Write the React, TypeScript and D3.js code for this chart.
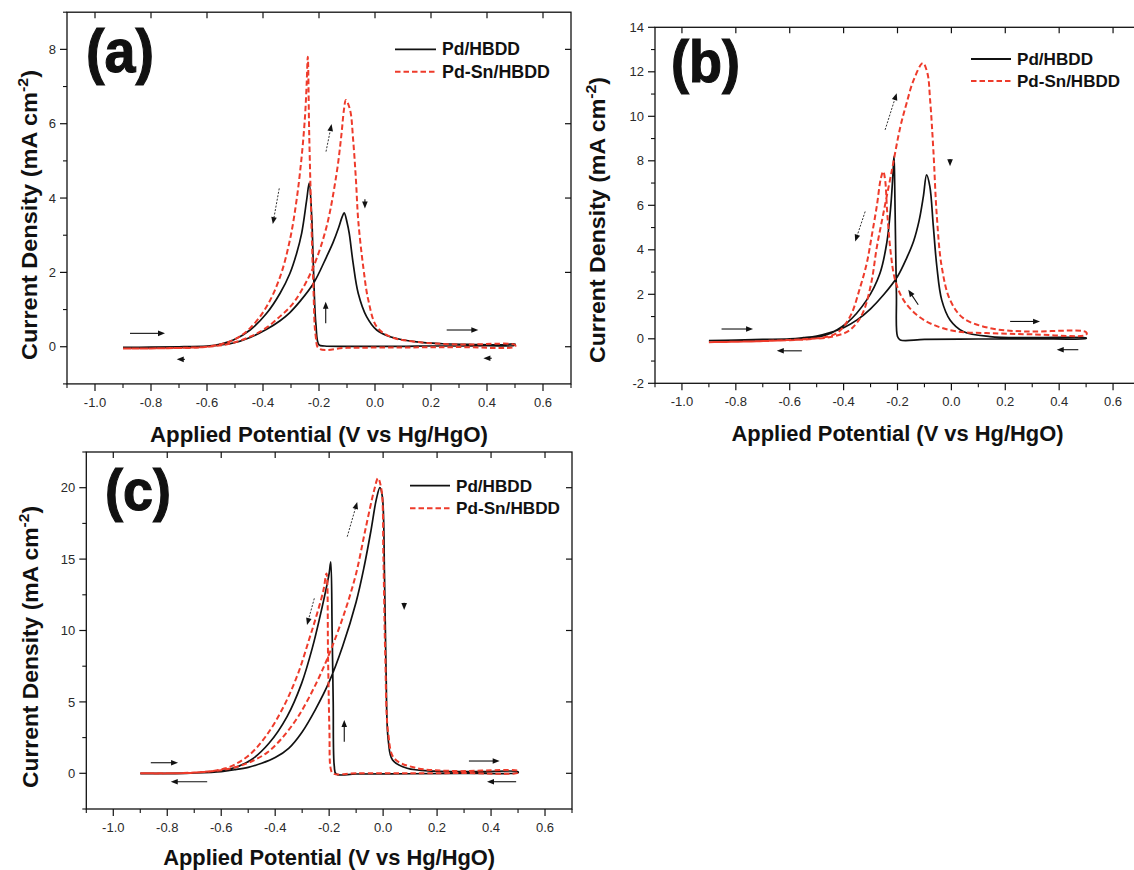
import React from 'react';
import * as d3 from 'd3';

type Pt = [number, number];

// ---------- tick labels / categories ----------
const xTickValues = [-1.0, -0.8, -0.6, -0.4, -0.2, 0.0, 0.2, 0.4, 0.6];
const yTicksA = [0, 2, 4, 6, 8];
const yTicksB = [-2, 0, 2, 4, 6, 8, 10, 12, 14];
const yTicksC = [0, 5, 10, 15, 20];
const seriesNames = ['Pd/HBDD', 'Pd-Sn/HBDD'];
const panelLabels = ['(a)', '(b)', '(c)'];
const xTitle = 'Applied Potential (V vs Hg/HgO)';

// ---------- panel (a) ----------
const aPdForward: Pt[] = [
  [-0.9, -0.02], [-0.8, -0.01], [-0.7, 0.0], [-0.6, 0.02], [-0.55, 0.05], [-0.506, 0.1],
  [-0.446, 0.25], [-0.387, 0.47], [-0.339, 0.7], [-0.304, 0.92], [-0.268, 1.22], [-0.22, 1.7],
  [-0.173, 2.42], [-0.15, 2.8], [-0.13, 3.2], [-0.117, 3.5], [-0.11, 3.6], [-0.1, 3.35],
  [-0.092, 3.05], [-0.078, 2.24], [-0.06, 1.44], [-0.03, 0.81], [0.006, 0.45], [0.054, 0.27],
  [0.149, 0.13], [0.25, 0.08], [0.35, 0.06], [0.45, 0.05], [0.5, 0.07],
];
const aPdReverse: Pt[] = [
  [0.5, 0.04], [0.4, 0.03], [0.3, 0.02], [0.2, 0.02], [0.1, 0.01], [0.0, 0.01], [-0.1, 0.01],
  [-0.18, 0.02], [-0.2, 0.05], [-0.211, 0.6], [-0.22, 2.15], [-0.226, 3.5], [-0.235, 4.4],
  [-0.244, 3.95], [-0.262, 3.05], [-0.28, 2.51], [-0.304, 1.97], [-0.339, 1.44], [-0.387, 0.9],
  [-0.446, 0.45], [-0.506, 0.18], [-0.56, 0.06], [-0.62, 0.0], [-0.7, -0.02], [-0.8, -0.03], [-0.9, -0.03],
];
const aPdSnForward: Pt[] = [
  [-0.9, -0.05], [-0.75, -0.04], [-0.6, 0.0], [-0.52, 0.08], [-0.446, 0.27], [-0.39, 0.5],
  [-0.34, 0.81], [-0.3, 1.1], [-0.268, 1.44], [-0.22, 2.15], [-0.173, 3.23], [-0.137, 4.67],
  [-0.12, 5.7], [-0.111, 6.37], [-0.104, 6.64], [-0.089, 6.37], [-0.078, 5.56], [-0.068, 4.48],
  [-0.06, 3.41], [-0.042, 2.15], [-0.024, 1.26], [0.006, 0.54], [0.054, 0.27], [0.149, 0.13],
  [0.3, 0.06], [0.5, 0.05],
];
const aPdSnReverse: Pt[] = [
  [0.5, 0.0], [0.3, -0.01], [0.1, -0.02], [-0.1, -0.03], [-0.2, -0.05], [-0.212, 0.3],
  [-0.22, 1.6], [-0.226, 3.05], [-0.235, 5.74], [-0.24, 7.8], [-0.244, 7.09], [-0.25, 6.19],
  [-0.262, 5.11], [-0.28, 3.95], [-0.304, 2.87], [-0.339, 1.88], [-0.387, 1.08], [-0.446, 0.5],
  [-0.506, 0.18], [-0.6, 0.0], [-0.75, -0.04], [-0.9, -0.05],
];

// ---------- panel (b) ----------
const bPdForward: Pt[] = [
  [-0.9, -0.08], [-0.8, -0.06], [-0.7, -0.03], [-0.6, 0.0], [-0.55, 0.05], [-0.5, 0.12],
  [-0.45, 0.28], [-0.4, 0.5], [-0.35, 0.85], [-0.3, 1.35], [-0.25, 2.0], [-0.2, 2.8],
  [-0.166, 3.63], [-0.14, 4.4], [-0.12, 5.3], [-0.104, 6.4], [-0.092, 7.37], [-0.08, 6.85],
  [-0.067, 5.05], [-0.054, 3.25], [-0.036, 1.75], [-0.005, 0.85], [0.044, 0.33], [0.143, 0.1],
  [0.3, 0.05], [0.5, 0.04],
];
const bPdReverse: Pt[] = [
  [0.5, 0.02], [0.3, 0.0], [0.1, -0.01], [-0.1, -0.03], [-0.19, -0.05], [-0.2, 0.1],
  [-0.204, 2.0], [-0.208, 5.0], [-0.211, 7.4], [-0.213, 8.2], [-0.216, 7.6], [-0.225, 5.95],
  [-0.24, 4.3], [-0.265, 2.95], [-0.314, 1.75], [-0.389, 0.7], [-0.463, 0.18], [-0.55, 0.0],
  [-0.7, -0.05], [-0.9, -0.08],
];
const bPdSnForward: Pt[] = [
  [-0.9, -0.15], [-0.75, -0.12], [-0.6, -0.05], [-0.52, 0.0], [-0.463, 0.05], [-0.389, 0.3],
  [-0.352, 0.7], [-0.324, 1.3], [-0.296, 2.6], [-0.277, 4.1], [-0.253, 5.6], [-0.222, 7.5],
  [-0.19, 9.5], [-0.166, 10.6], [-0.141, 11.6], [-0.106, 12.39], [-0.089, 11.94], [-0.079, 10.74],
  [-0.067, 8.5], [-0.054, 5.5], [-0.036, 3.25], [-0.005, 1.75], [0.044, 0.93], [0.143, 0.48],
  [0.267, 0.33], [0.5, 0.3],
];
const bPdSnReverse: Pt[] = [
  [0.5, 0.18], [0.3, 0.2], [0.15, 0.25], [0.02, 0.33], [-0.067, 0.63], [-0.129, 1.08],
  [-0.178, 1.75], [-0.209, 2.65], [-0.225, 3.85], [-0.238, 5.65], [-0.246, 7.15], [-0.253, 7.52],
  [-0.262, 7.2], [-0.277, 5.95], [-0.296, 4.6], [-0.314, 3.4], [-0.339, 2.3], [-0.376, 1.0],
  [-0.426, 0.25], [-0.513, 0.0], [-0.6, -0.06], [-0.75, -0.12], [-0.9, -0.15],
];

// ---------- panel (c) ----------
const cPdForward: Pt[] = [
  [-0.9, 0.0], [-0.8, 0.0], [-0.7, 0.03], [-0.6, 0.12], [-0.55, 0.25], [-0.5, 0.42],
  [-0.45, 0.7], [-0.4, 1.1], [-0.35, 1.75], [-0.3, 2.9], [-0.25, 4.5], [-0.2, 6.4],
  [-0.15, 8.9], [-0.1, 12.0], [-0.07, 14.5], [-0.045, 17.0], [-0.025, 19.2], [-0.012, 20.0],
  [-0.003, 19.4], [0.005, 14.0], [0.011, 7.0], [0.019, 2.33], [0.035, 0.93], [0.089, 0.35],
  [0.19, 0.15], [0.35, 0.12], [0.5, 0.11],
];
const cPdReverse: Pt[] = [
  [0.5, 0.05], [0.3, 0.0], [0.1, -0.03], [-0.1, -0.05], [-0.174, -0.05], [-0.181, 0.5],
  [-0.185, 5.0], [-0.189, 10.0], [-0.194, 14.8], [-0.2, 14.0], [-0.207, 13.3], [-0.234, 10.97],
  [-0.261, 8.87], [-0.302, 6.3], [-0.356, 3.97], [-0.423, 2.1], [-0.49, 0.93], [-0.571, 0.28],
  [-0.7, 0.03], [-0.9, -0.03],
];
const cPdSnForward: Pt[] = [
  [-0.9, 0.0], [-0.8, 0.0], [-0.7, 0.05], [-0.6, 0.22], [-0.53, 0.52], [-0.477, 0.93],
  [-0.43, 1.45], [-0.38, 2.35], [-0.315, 3.97], [-0.248, 6.3], [-0.194, 8.63], [-0.14, 11.43],
  [-0.1, 14.0], [-0.066, 17.04], [-0.033, 19.84], [-0.019, 20.66], [-0.006, 19.84], [0.001, 15.17],
  [0.008, 8.17], [0.019, 2.8], [0.041, 1.05], [0.116, 0.4], [0.26, 0.16], [0.5, 0.16],
];
const cPdSnReverse: Pt[] = [
  [0.5, 0.05], [0.3, 0.02], [0.1, 0.0], [-0.1, 0.0], [-0.185, -0.02], [-0.194, 0.3],
  [-0.199, 3.0], [-0.204, 8.0], [-0.21, 14.0], [-0.221, 12.84], [-0.248, 10.97], [-0.275, 9.33],
  [-0.315, 7.0], [-0.369, 4.66], [-0.436, 2.56], [-0.504, 1.16], [-0.584, 0.35], [-0.7, 0.05],
  [-0.9, 0.0],
];

// ---------- scan-direction arrows: [x1, y1, x2, y2, dotted(1) / solid(0)] ----------
const arrowsA: number[][] = [
  [-0.875, 0.36, -0.75, 0.36, 0],
  [-0.679, -0.34, -0.708, -0.34, 0],
  [-0.342, 4.26, -0.365, 3.3, 1],
  [-0.175, 5.25, -0.155, 5.99, 1],
  [-0.036, 3.97, -0.036, 3.72, 0],
  [-0.176, 0.63, -0.176, 1.21, 0],
  [0.256, 0.45, 0.369, 0.45, 0],
  [0.417, -0.31, 0.387, -0.31, 0],
];
const arrowsB: number[][] = [
  [-0.853, 0.44, -0.736, 0.44, 0],
  [-0.555, -0.54, -0.648, -0.54, 0],
  [-0.246, 9.39, -0.203, 11.04, 1],
  [-0.32, 5.72, -0.357, 4.37, 1],
  [-0.005, 8.08, -0.005, 7.75, 0],
  [-0.123, 1.53, -0.16, 2.2, 0],
  [0.218, 0.78, 0.329, 0.78, 0],
  [0.471, -0.49, 0.391, -0.49, 0],
];
const arrowsC: number[][] = [
  [-0.861, 0.74, -0.76, 0.74, 0],
  [-0.652, -0.59, -0.787, -0.59, 0],
  [-0.255, 12.25, -0.282, 10.39, 1],
  [-0.133, 16.57, -0.096, 19.0, 1],
  [0.078, 11.95, 0.078, 11.44, 0],
  [-0.144, 2.21, -0.144, 3.73, 0],
  [0.318, 0.86, 0.432, 0.86, 0],
  [0.493, -0.59, 0.385, -0.59, 0],
];

// ---------- layout ----------
const FONT = "'Liberation Sans', Arial, Helvetica, sans-serif";
const RED = '#ee3b2b';

interface PanelCfg {
  label: string;
  xRange: [number, number];
  yDomain: [number, number];
  yRange: [number, number];
  yTicks: number[];
  yMinorStep: number;
  pd: Pt[];
  pdsn: Pt[];
  arrows: number[][];
  labelX: number; labelY: number; labelSize: number; labelLen: number;
  legX: number; legY1: number; legY2: number; legLineLen: number; legSize: number; legLen1: number; legLen2: number;
  xTitleY: number; xTitleLen: number;
  yTitleX: number; yTitleY: number; yTitleLen: number;
}

const panels: PanelCfg[] = [
  {
    label: panelLabels[0], xRange: [67, 571], yDomain: [-1, 9], yRange: [383.9, 12.2],
    yTicks: yTicksA, yMinorStep: 2,
    pd: [...aPdForward, ...aPdReverse], pdsn: [...aPdSnForward, ...aPdSnReverse], arrows: arrowsA,
    labelX: 86, labelY: 72, labelSize: 62, labelLen: 68,
    legX: 395, legY1: 49.3, legY2: 71.7, legLineLen: 41, legSize: 18, legLen1: 78, legLen2: 108,
    xTitleY: 442, xTitleLen: 338, yTitleX: 37, yTitleY: 215, yTitleLen: 290,
  },
  {
    label: panelLabels[1], xRange: [655, 1140], yDomain: [-2, 14], yRange: [383.3, 27.3],
    yTicks: yTicksB, yMinorStep: 2,
    pd: [...bPdForward, ...bPdReverse], pdsn: [...bPdSnForward, ...bPdSnReverse], arrows: arrowsB,
    labelX: 671, labelY: 82, labelSize: 60, labelLen: 69,
    legX: 971, legY1: 59, legY2: 81, legLineLen: 40, legSize: 17, legLen1: 76, legLen2: 103,
    xTitleY: 441, xTitleLen: 332, yTitleX: 605, yTitleY: 220, yTitleLen: 286,
  },
  {
    label: panelLabels[2], xRange: [86.3, 572], yDomain: [-2.5, 22.5], yRange: [809, 452],
    yTicks: yTicksC, yMinorStep: 5,
    pd: [...cPdForward, ...cPdReverse], pdsn: [...cPdSnForward, ...cPdSnReverse], arrows: arrowsC,
    labelX: 105, labelY: 510, labelSize: 58, labelLen: 66,
    legX: 410, legY1: 485.7, legY2: 508.3, legLineLen: 40, legSize: 17, legLen1: 76, legLen2: 104,
    xTitleY: 865, xTitleLen: 332, yTitleX: 38, yTitleY: 647, yTitleLen: 282,
  },
];

function Arrow({ x1, y1, x2, y2, dotted }: { x1: number; y1: number; x2: number; y2: number; dotted: boolean }) {
  const dx = x2 - x1, dy = y2 - y1;
  const L = Math.hypot(dx, dy) || 1;
  const ux = dx / L, uy = dy / L;
  const hl = 7, hw = 2.8;
  const bx = x2 - ux * hl, by = y2 - uy * hl;
  const pts = `${x2},${y2} ${bx - uy * hw},${by + ux * hw} ${bx + uy * hw},${by - ux * hw}`;
  const shaftEndX = x2 - ux * hl * 0.7, shaftEndY = y2 - uy * hl * 0.7;
  return (
    <g>
      {L > hl ? (
        <line x1={x1} y1={y1} x2={shaftEndX} y2={shaftEndY} stroke={dotted ? '#333' : '#111'}
          strokeWidth={dotted ? 1 : 1.1} strokeDasharray={dotted ? '2 1.5' : undefined} />
      ) : null}
      <polygon points={pts} fill="#111" />
    </g>
  );
}

function Panel({ cfg }: { cfg: PanelCfg }) {
  const xs = d3.scaleLinear().domain([-1.1, 0.7]).range(cfg.xRange);
  const ys = d3.scaleLinear().domain(cfg.yDomain).range(cfg.yRange);
  const line = d3.line<Pt>().x((d) => xs(d[0])).y((d) => ys(d[1])).curve(d3.curveCatmullRom.alpha(0.5));
  const [x0, x1] = cfg.xRange;
  const yb = cfg.yRange[0], yt = cfg.yRange[1];
  const xMinor = d3.range(-1.1, 0.71, 0.2).map((v) => Math.round(v * 10) / 10);
  const yMinor = d3.range(cfg.yTicks[0] - cfg.yMinorStep / 2, cfg.yDomain[1] + 0.01, cfg.yMinorStep)
    .filter((v) => v >= cfg.yDomain[0] - 0.01);
  const xc = (x0 + x1) / 2;
  return (
    <g>
      <path d={line(cfg.pd) || ''} fill="none" stroke="#111" strokeWidth={1.7} strokeLinejoin="round" />
      <path d={line(cfg.pdsn) || ''} fill="none" stroke={RED} strokeWidth={2} strokeDasharray="5.5 3" />
      {cfg.arrows.map((a, i) => (
        <Arrow key={i} x1={xs(a[0])} y1={ys(a[1])} x2={xs(a[2])} y2={ys(a[3])} dotted={a[4] === 1} />
      ))}
      <rect x={x0} y={yt} width={x1 - x0} height={yb - yt} fill="none" stroke="#111" strokeWidth={1.3} />
      {xTickValues.map((v) => (
        <g key={'xb' + v}>
          <line x1={xs(v)} x2={xs(v)} y1={yb} y2={yb + 7} stroke="#111" strokeWidth={1.2} />
          <line x1={xs(v)} x2={xs(v)} y1={yt} y2={yt + 6} stroke="#111" strokeWidth={1.2} />
          <text x={xs(v)} y={yb + 23} textAnchor="middle" fontFamily={FONT} fontSize={13} fill="#2a2a2a">
            {v.toFixed(1)}
          </text>
        </g>
      ))}
      {xMinor.map((v) => (
        <line key={'xm' + v} x1={xs(v)} x2={xs(v)} y1={yb} y2={yb + 4} stroke="#111" strokeWidth={1.1} />
      ))}
      {cfg.yTicks.map((v) => (
        <g key={'yl' + v}>
          <line x1={x0 - 7} x2={x0} y1={ys(v)} y2={ys(v)} stroke="#111" strokeWidth={1.2} />
          <line x1={x1 - 6} x2={x1} y1={ys(v)} y2={ys(v)} stroke="#111" strokeWidth={1.2} />
          <text x={x0 - 11} y={ys(v) + 4.6} textAnchor="end" fontFamily={FONT} fontSize={13} fill="#2a2a2a">
            {String(v)}
          </text>
        </g>
      ))}
      {yMinor.map((v) => (
        <line key={'ym' + v} x1={x0 - 4} x2={x0} y1={ys(v)} y2={ys(v)} stroke="#111" strokeWidth={1.1} />
      ))}
      <text x={cfg.labelX} y={cfg.labelY} fontFamily={FONT} fontWeight="bold" fontSize={cfg.labelSize}
        fill="#111" stroke="#111" strokeWidth={1.2} textLength={cfg.labelLen} lengthAdjust="spacingAndGlyphs">{cfg.label}</text>
      <line x1={cfg.legX} x2={cfg.legX + cfg.legLineLen} y1={cfg.legY1} y2={cfg.legY1} stroke="#111" strokeWidth={1.8} />
      <line x1={cfg.legX} x2={cfg.legX + cfg.legLineLen} y1={cfg.legY2} y2={cfg.legY2} stroke={RED} strokeWidth={2} strokeDasharray="5.5 3" />
      <text x={cfg.legX + cfg.legLineLen + 6} y={cfg.legY1 + 6} fontFamily={FONT} fontWeight="bold" fontSize={cfg.legSize}
        fill="#111" textLength={cfg.legLen1} lengthAdjust="spacingAndGlyphs">{seriesNames[0]}</text>
      <text x={cfg.legX + cfg.legLineLen + 6} y={cfg.legY2 + 6} fontFamily={FONT} fontWeight="bold" fontSize={cfg.legSize}
        fill="#111" textLength={cfg.legLen2} lengthAdjust="spacingAndGlyphs">{seriesNames[1]}</text>
      <text x={xc} y={cfg.xTitleY} textAnchor="middle" fontFamily={FONT} fontWeight="bold" fontSize={22}
        fill="#111" textLength={cfg.xTitleLen} lengthAdjust="spacingAndGlyphs">{xTitle}</text>
      <text transform={`translate(${cfg.yTitleX},${cfg.yTitleY}) rotate(-90)`} textAnchor="middle"
        fontFamily={FONT} fontWeight="bold" fontSize={22} fill="#111"
        textLength={cfg.yTitleLen} lengthAdjust="spacingAndGlyphs">
        Current Density (mA cm<tspan dy={-9} fontSize={15}>-2</tspan><tspan dy={9}>)</tspan>
      </text>
    </g>
  );
}

export default function App() {
  return (
    <svg width={1134} height={870} viewBox="0 0 1134 870"
      style={{ position: 'absolute', left: 0, top: 0, background: '#ffffff' }}>
      <rect x={0} y={0} width={1134} height={870} fill="#ffffff" />
      {panels.map((p, i) => <Panel key={i} cfg={p} />)}
    </svg>
  );
}
